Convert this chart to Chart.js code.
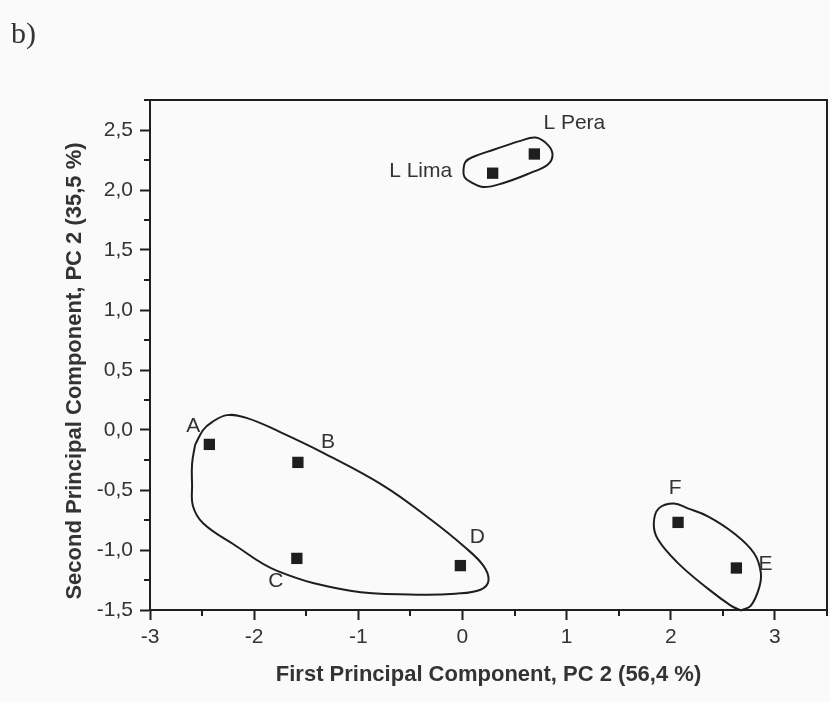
<!DOCTYPE html>
<html>
<head>
<meta charset="utf-8">
<script src="https://cdn.jsdelivr.net/npm/chart.js@4.4.0/dist/chart.umd.min.js"></script>
<style>
body { margin: 0; background: #fafafa; }
#wrap { position: relative; width: 830px; height: 702px; }
#tag { position: absolute; left: 11px; top: 18px; line-height: 1; font-family: "Liberation Serif", serif; font-size: 30px; color: #333; }
</style>
</head>
<body>
<div id="wrap">
<canvas id="grafica" width="830" height="702"></canvas>
<div id="tag">b)</div>
</div>
<script>
// samples (PC1, PC2 scores)
var sampleNames = ['A', 'B', 'C', 'D', 'E', 'F', 'L Lima', 'L Pera'];
var pc1 = [-2.43, -1.58, -1.59, -0.02, 2.63, 2.07, 0.29, 0.69];
var pc2 = [-0.12, -0.27, -1.07, -1.13, -1.15, -0.77, 2.14, 2.30];

// hand drawn group outlines
var groupABCDx = [-2.567, -2.49, -2.404, -2.26, -2.067, -1.75, -1.337, -0.76, -0.308, 0.01, 0.202, 0.25, 0.173, -0.067, -0.433, -1.077, -1.779, -2.202, -2.49, -2.587, -2.596, -2.596];
var groupABCDy = [-0.124, 0.0, 0.066, 0.124, 0.099, -0.017, -0.19, -0.463, -0.744, -0.967, -1.132, -1.256, -1.331, -1.364, -1.372, -1.339, -1.174, -0.95, -0.777, -0.636, -0.455, -0.281];
var groupLx = [0.529, 0.702, 0.817, 0.865, 0.817, 0.654, 0.394, 0.202, 0.077, 0.019, 0.01, 0.029, 0.106, 0.298];
var groupLy = [2.403, 2.437, 2.378, 2.294, 2.21, 2.143, 2.059, 2.025, 2.067, 2.109, 2.168, 2.235, 2.277, 2.336];
var groupEFx = [2.673, 2.577, 2.356, 2.067, 1.875, 1.837, 1.885, 2.029, 2.163, 2.356, 2.606, 2.798, 2.865, 2.846, 2.769];
var groupEFy = [-1.504, -1.463, -1.322, -1.107, -0.909, -0.777, -0.653, -0.612, -0.653, -0.719, -0.86, -1.025, -1.19, -1.322, -1.463];

var xTitle = 'First Principal Component, PC 2 (56,4 %)';
var yTitle = 'Second Principal Component, PC 2 (35,5 %)';

// label offsets in px from each marker
var labelOffsets = [[-16, -18], [30, -20], [-21, 23], [17, -28], [29, -4], [-3, -34], [-72, -2], [40, -31]];

function loop(xs, ys) {
    var d = xs.map(function (v, i) { return { x: v, y: ys[i] }; });
    d.push(d[0]);
    return d;
}
function isMajor(v, step) {
    return Math.abs(v / step - Math.round(v / step)) < 1e-6;
}

var ink = '#1e1e1e';
var fontFam = '"Liberation Sans", Arial, sans-serif';
var outline = { showLine: true, pointRadius: 0, borderColor: ink, borderWidth: 2, tension: 0.4, fill: false, clip: false };

var extras = {
    id: 'extras',
    afterDatasetsDraw: function (chart) {
        var ctx = chart.ctx, a = chart.chartArea, sx = chart.scales.x, sy = chart.scales.y;
        ctx.save();
        ctx.strokeStyle = ink;
        ctx.lineWidth = 2;
        ctx.strokeRect(a.left, a.top, a.right - a.left, a.bottom - a.top);
        ctx.beginPath();
        sx.ticks.forEach(function (t) {
            if (!isMajor(t.value, 1)) {
                var px = Math.round(sx.getPixelForValue(t.value));
                ctx.moveTo(px, a.bottom); ctx.lineTo(px, a.bottom + 6);
            }
        });
        sy.ticks.forEach(function (t) {
            if (!isMajor(t.value, 0.5)) {
                var py = Math.round(sy.getPixelForValue(t.value));
                ctx.moveTo(a.left, py); ctx.lineTo(a.left - 6, py);
            }
        });
        ctx.stroke();
        ctx.fillStyle = '#333';
        ctx.font = '21px ' + fontFam;
        ctx.textAlign = 'center';
        ctx.textBaseline = 'middle';
        var pts = chart.getDatasetMeta(0).data;
        sampleNames.forEach(function (n, i) {
            ctx.fillText(n, pts[i].x + labelOffsets[i][0], pts[i].y + labelOffsets[i][1]);
        });
        // y axis title
        ctx.font = 'bold 22px ' + fontFam;
        ctx.translate(75, 371);
        ctx.rotate(-Math.PI / 2);
        ctx.fillText(yTitle, 0, 0);
        ctx.restore();
    }
};

var ctx = document.getElementById('grafica').getContext('2d');
var grafica = new Chart(ctx, {
    type: 'scatter',
    data: {
        datasets: [
            {
                label: 'samples',
                data: pc1.map(function (v, i) { return { x: v, y: pc2[i] }; }),
                pointStyle: 'rect',
                pointRadius: 8,
                backgroundColor: ink,
                borderWidth: 0
            },
            Object.assign({ label: 'A-D', data: loop(groupABCDx, groupABCDy) }, outline),
            Object.assign({ label: 'Lima-Pera', data: loop(groupLx, groupLy) }, outline),
            Object.assign({ label: 'E-F', data: loop(groupEFx, groupEFy) }, outline)
        ]
    },
    options: {
        responsive: false,
        animation: false,
        devicePixelRatio: 1,
        layout: { autoPadding: false, padding: { top: 100, right: 3, left: 0, bottom: 0 } },
        plugins: { legend: { display: false }, tooltip: { enabled: false } },
        scales: {
            x: {
                type: 'linear',
                min: -3, max: 3.5,
                afterFit: function (s) { s.height = 92; s.paddingLeft = 0; s.paddingRight = 0; },
                ticks: {
                    stepSize: 0.5, autoSkip: false, maxRotation: 0, padding: 5,
                    color: '#333', font: { size: 21, family: fontFam },
                    callback: function (v) { return isMajor(v, 1) ? String(Math.round(v)) : ''; }
                },
                grid: {
                    drawOnChartArea: false, tickLength: 10, tickWidth: 2,
                    tickColor: function (c) { return c.tick && isMajor(c.tick.value, 1) ? ink : 'rgba(0,0,0,0)'; }
                },
                border: { color: ink, width: 2 },
                title: {
                    display: true, text: xTitle, color: '#333', padding: { top: 0, bottom: 14 },
                    font: { size: 22, weight: 'bold', family: fontFam }
                }
            },
            y: {
                type: 'linear',
                min: -1.5, max: 2.75,
                afterFit: function (s) { s.width = 150; },
                ticks: {
                    stepSize: 0.25, autoSkip: false, padding: 7,
                    color: '#333', font: { size: 21, family: fontFam },
                    callback: function (v) { return isMajor(v, 0.5) ? v.toFixed(1).replace('.', ',') : ''; }
                },
                grid: {
                    drawOnChartArea: false, tickLength: 10, tickWidth: 2,
                    tickColor: function (c) { return c.tick && isMajor(c.tick.value, 0.5) ? ink : 'rgba(0,0,0,0)'; }
                },
                border: { color: ink, width: 2 },
                title: { display: false }
            }
        }
    },
    plugins: [extras]
});
</script>
</body>
</html>
